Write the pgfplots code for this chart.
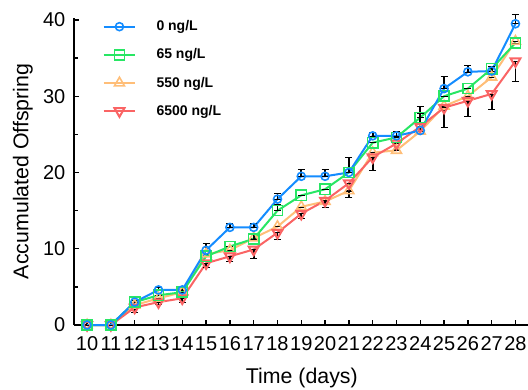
\documentclass[border=0pt]{standalone}
\usepackage{fontspec}
\setmainfont{Liberation Sans}
\usepackage{pgfplots}
\usepackage{pgfplotstable}
\pgfplotsset{compat=1.18}
\definecolor{cblue}{RGB}{20,140,255}
\definecolor{cgreen}{RGB}{40,230,100}
\definecolor{corange}{RGB}{255,190,120}
\definecolor{cred}{RGB}{250,100,100}

\pgfplotstableread{
x y ep em
10 0 0 0
11 0 0 0
12 3.0 0.3 0
13 4.6 0.4 0
14 4.6 0.4 0
15 9.8 0.9 0
16 12.8 0.6 0
17 12.8 0.6 0
18 16.5 0.8 0
19 19.5 0.9 0
20 19.5 0.9 0
21 20.0 2.0 0
22 24.8 0.5 0
23 24.8 0.6 0
24 25.5 2.2 0
25 31.0 1.6 0
26 33.2 0.9 0
27 33.3 0.6 0
28 39.5 1.2 0
}\tblue
\pgfplotstableread{
x y ep em
10 0 0 0
11 0 0 0
12 3.0 0 0
13 3.9 0 0
14 4.3 0 0
15 9.0 0 0
16 10.3 0 0
17 11.3 0.6 0
18 15.0 0.8 0
19 17.0 0 0
20 17.8 0 0
21 20.0 0 0
22 23.9 0 0
23 24.6 0 0
24 27.2 1.5 0
25 30.0 0 0
26 31.0 0 0
27 33.6 0 0
28 37.0 0 0
}\tgreen
\pgfplotstableread{
x y ep em
10 0 0 0
11 0 0 0
12 2.6 0 0
13 3.5 0 0
14 4.3 0 0
15 9.3 0 0
16 9.8 0 0
17 11.4 0 0
18 12.9 0 0
19 15.5 0 0
20 16.2 0 0
21 17.6 0 0.8
22 22.6 0 0
23 22.9 0 0
24 25.4 0 0
25 28.7 0 0
26 30.0 0 0
27 32.5 0 0
28 37.2 0 0
}\torange
\pgfplotstableread{
x y ep em
10 0 0 0
11 0 0 0
12 2.3 0 0.6
13 3.0 0 0.3
14 3.5 0 0.5
15 8.1 0 0.5
16 9.0 0 0.6
17 9.9 0 1.1
18 12.1 0 0.8
19 14.6 0 0.6
20 16.3 0 0.8
21 18.6 0 0.9
22 22.0 0 1.7
23 23.8 0 0.8
24 26.0 0 0.5
25 28.5 0 2.6
26 29.4 0 2.0
27 30.3 0 2.0
28 34.6 0 2.6
}\tred

\begin{document}
\begin{tikzpicture}
\begin{axis}[
  at={(0,0)}, anchor=south west,
  scale only axis, width=341.8pt, height=230.5pt,
  xmin=9.45, xmax=28.6, ymin=0, ymax=40.3,
  clip=false,
  axis x line*=bottom, axis y line*=left,
  axis line style={-, line width=1.5pt, black},
  xtick={10,...,28}, ytick={0,10,20,30,40}, minor ytick={5,15,25,35},
  tick align=inside, major tick length=4pt, minor tick length=3pt,
  tick style={black, line width=1pt},
  /pgf/number format/assume math mode=true,
  ticklabel style={font=\fontsize{15}{15}\selectfont},
  xticklabel style={yshift=-5pt},
  yticklabel style={xshift=-3pt},
  xlabel={Time (days)}, ylabel={Accumulated Offspring},
  label style={font=\fontsize{16}{18}\selectfont},
  xlabel style={at={(axis description cs:0.5,-0.1725)}, anchor=center},
  ylabel style={at={(axis description cs:-0.112,0.5)}, anchor=center},
  legend style={at={(0.062,1.0)}, anchor=north west, draw=none, fill=none,
    font=\fontsize{10.5}{12}\selectfont\bfseries, row sep=8pt, inner sep=0pt},
  legend cell align=left,
  legend image code/.code={
    \draw[mark repeat=2, mark phase=2] plot coordinates {(0cm,0cm) (0.42cm,0cm) (0.84cm,0cm)};
    \path (0cm,0cm) (1.3cm,0cm);
  },
  every axis plot/.append style={line width=1.5pt, mark options={solid, fill=white, line width=1.2pt}},
  error bars/error bar style={black, line width=1.3pt, mark size=2.6pt},
]
\addplot[forget plot, color=corange, mark=triangle, mark size=4.3pt,
  error bars/.cd, y dir=both, y explicit]
  table[x=x, y=y, y error plus=ep, y error minus=em] {\torange};
\addplot[forget plot, color=cred, mark=triangle, mark size=4.3pt, mark options={rotate=180},
  error bars/.cd, y dir=both, y explicit]
  table[x=x, y=y, y error plus=ep, y error minus=em] {\tred};
\addplot[forget plot, color=cgreen, mark=square, mark size=3.8pt,
  error bars/.cd, y dir=both, y explicit]
  table[x=x, y=y, y error plus=ep, y error minus=em] {\tgreen};
\addplot[forget plot, color=cblue, mark=o, mark size=3pt,
  error bars/.cd, y dir=both, y explicit]
  table[x=x, y=y, y error plus=ep, y error minus=em] {\tblue};
\addlegendimage{color=cblue, mark=o, mark size=3pt}
\addlegendentry{0 ng/L}
\addlegendimage{color=cgreen, mark=square, mark size=3.8pt}
\addlegendentry{65 ng/L}
\addlegendimage{color=corange, mark=triangle, mark size=4.3pt}
\addlegendentry{550 ng/L}
\addlegendimage{color=cred, mark=triangle, mark size=4.3pt, mark options={rotate=180}}
\addlegendentry{6500 ng/L}
\end{axis}
\pgfresetboundingbox
\useasboundingbox (-55.5pt,-48pt) rectangle (340.5pt,243.75pt);
\end{tikzpicture}
\end{document}
